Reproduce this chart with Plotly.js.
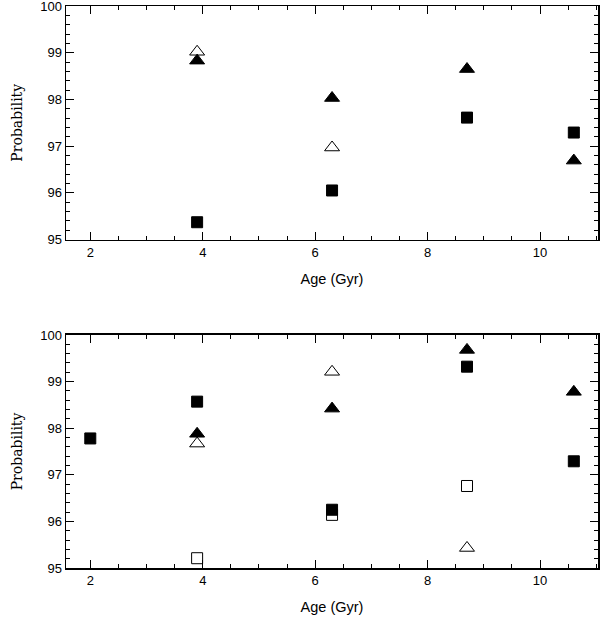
<!DOCTYPE html>
<html>
<head>
<meta charset="utf-8">
<script src="https://cdn.plot.ly/plotly-3.0.1.min.js"></script>
<style>html,body{margin:0;padding:0;background:#fff;}#chart{width:614px;height:619px;}</style>
</head>
<body>
<div id="chart"></div>
<script>
// ---- data ----
// Top panel
const topFilledTriAge = [3.9, 6.3, 8.7, 10.6];
const topFilledTriProb = [98.83, 98.03, 98.65, 96.69];
const topOpenTriAge = [3.9, 6.3];
const topOpenTriProb = [99.02, 96.97];
const topFilledSqAge = [3.9, 6.3, 8.7, 10.6];
const topFilledSqProb = [95.37, 96.05, 97.61, 97.29];
// Bottom panel
const botFilledSqAge = [2.0, 3.9, 6.3, 8.7, 10.6];
const botFilledSqProb = [97.78, 98.57, 96.25, 99.32, 97.29];
const botFilledTriAge = [3.9, 6.3, 8.7, 10.6];
const botFilledTriProb = [97.88, 98.42, 99.68, 98.78];
const botOpenTriAge = [3.9, 6.3, 8.7];
const botOpenTriProb = [97.67, 99.21, 95.43];
const botOpenSqAge = [3.9, 6.3, 8.7];
const botOpenSqProb = [95.21, 96.14, 96.76];

const xTickVals = [2, 4, 6, 8, 10];
const yTickVals = [95, 96, 97, 98, 99, 100];

function mk(x, y, symbol, filled, xa, ya, size) {
  return {
    x: x, y: y, xaxis: xa, yaxis: ya, type: 'scatter', mode: 'markers',
    showlegend: false, hoverinfo: 'x+y',
    marker: {symbol: symbol, size: size, color: filled ? '#000' : '#fff',
             line: {color: '#000', width: 1}}
  };
}

const TRI = 13, SQ = 11;
const traces = [
  mk(topOpenTriAge, topOpenTriProb, 'triangle-up', false, 'x', 'y', TRI),
  mk(topFilledTriAge, topFilledTriProb, 'triangle-up', true, 'x', 'y', TRI),
  mk(topFilledSqAge, topFilledSqProb, 'square', true, 'x', 'y', SQ),
  mk(botOpenSqAge, botOpenSqProb, 'square', false, 'x2', 'y2', SQ),
  mk(botOpenTriAge, botOpenTriProb, 'triangle-up', false, 'x2', 'y2', TRI),
  mk(botFilledTriAge, botFilledTriProb, 'triangle-up', true, 'x2', 'y2', TRI),
  mk(botFilledSqAge, botFilledSqProb, 'square', true, 'x2', 'y2', SQ)
];

const tickFont = {family: 'Liberation Sans, Arial, sans-serif', size: 13, color: '#000'};
function xAxis(anchor) {
  return {
    anchor: anchor, range: [1.568, 11.03], tickvals: xTickVals, ticktext: xTickVals.map(String),
    ticks: 'inside', ticklen: 8, tickwidth: 1, tickcolor: '#000',
    minor: {dtick: 0.5, tick0: 0, ticks: 'inside', ticklen: 4, tickwidth: 1, tickcolor: '#000', showgrid: false},
    showline: true, linecolor: '#000', linewidth: 1.5, mirror: 'ticks',
    showgrid: false, zeroline: false, tickfont: tickFont, ticklabeloverflow: 'allow',
    title: {text: 'Age (Gyr)', font: {family: 'Liberation Sans, Arial, sans-serif', size: 14.5, color: '#000'}, standoff: 15}
  };
}
function yAxis(anchor, domain) {
  return {
    anchor: anchor, domain: domain, range: [95, 100], tickvals: yTickVals, ticktext: yTickVals.map(String),
    ticks: 'inside', ticklen: 8, tickwidth: 1, tickcolor: '#000',
    minor: {dtick: 0.2, tick0: 95, ticks: 'inside', ticklen: 4, tickwidth: 1, tickcolor: '#000', showgrid: false},
    showline: true, linecolor: '#000', linewidth: 1.5, mirror: 'ticks',
    showgrid: false, zeroline: false, tickfont: tickFont, ticklabeloverflow: 'allow',
    title: {text: 'Probability', font: {family: 'DejaVu Serif, serif', size: 14, color: '#000'}, standoff: 14}
  };
}

const layout = {
  width: 614, height: 619,
  margin: {l: 66, r: 16, t: 6, b: 51},
  paper_bgcolor: '#fff', plot_bgcolor: '#fff',
  xaxis: xAxis('y'),
  yaxis: yAxis('x', [0.5845, 1]),
  xaxis2: xAxis('y2'),
  yaxis2: yAxis('x2', [0, 0.4146]),
  showlegend: false
};

Plotly.newPlot('chart', traces, layout, {displayModeBar: false, staticPlot: true});
</script>
</body>
</html>
